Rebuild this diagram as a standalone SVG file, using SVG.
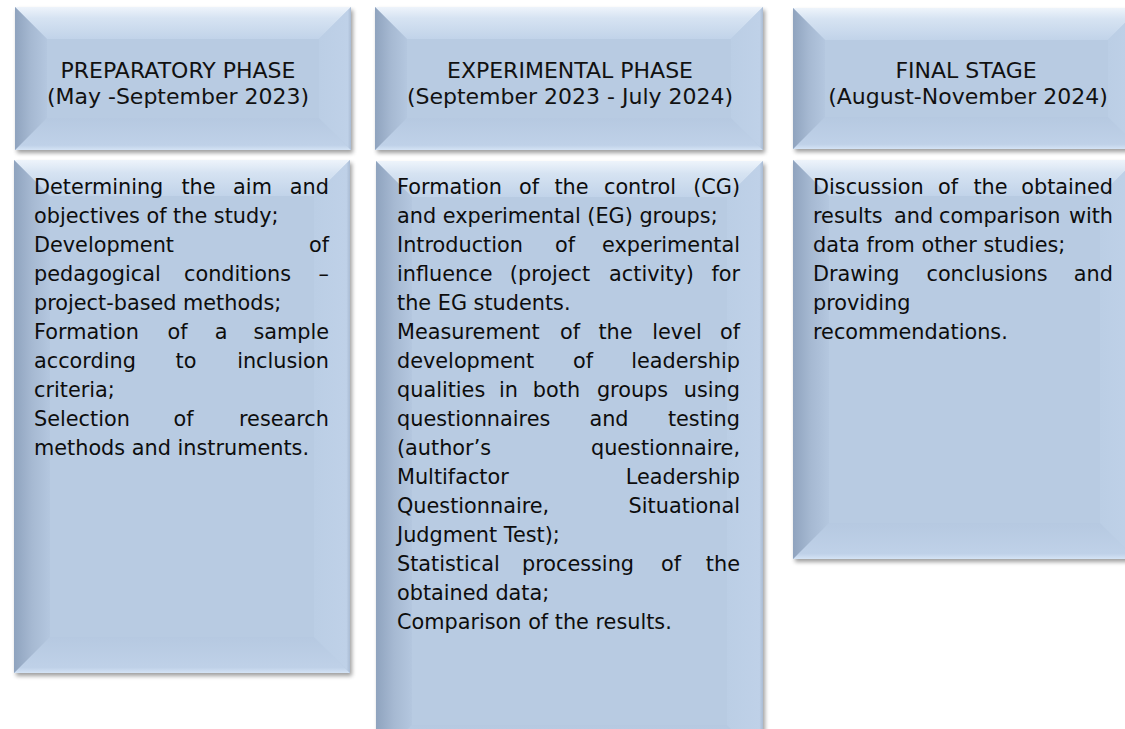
<svg xmlns="http://www.w3.org/2000/svg" width="1125" height="729" viewBox="0 0 1125 729">
  <defs>
    <style>
      .face { fill: #B8CBE2; }
      .top { fill: url(#gTop); }
      .bot { fill: url(#gBot); }
      .lft { fill: url(#gLft); }
      .rgt { fill: url(#gRgt); }
      .shadow { fill: #000; opacity: 0.38; filter: url(#soft); }
      .t { font-family: "DejaVu Sans", Verdana, sans-serif; font-size: 20.8px; fill: #0d0d0d; }
      .h { font-family: "DejaVu Sans", Verdana, sans-serif; font-size: 22px; fill: #111; text-anchor: middle; }
      .m { text-anchor: middle; }
      .e { text-anchor: end; }
    </style>
    <filter id="soft" x="-10%" y="-10%" width="120%" height="120%">
      <feGaussianBlur stdDeviation="2.2"/>
    </filter>
    <linearGradient id="gTop" x1="0" y1="0" x2="0" y2="1">
      <stop offset="0" stop-color="#EEF4FB"/>
      <stop offset="0.35" stop-color="#D6E3F2"/>
      <stop offset="1" stop-color="#C1D3E9"/>
    </linearGradient>
    <linearGradient id="gBot" x1="0" y1="0" x2="0" y2="1">
      <stop offset="0" stop-color="#B6C9E1"/>
      <stop offset="0.85" stop-color="#BFD1E8"/>
      <stop offset="1" stop-color="#D4E3F5"/>
    </linearGradient>
    <linearGradient id="gLft" x1="0" y1="0" x2="1" y2="0">
      <stop offset="0" stop-color="#8FA3BE"/>
      <stop offset="0.5" stop-color="#A6B9D2"/>
      <stop offset="1" stop-color="#B4C7DF"/>
    </linearGradient>
    <linearGradient id="gRgt" x1="0" y1="0" x2="1" y2="0">
      <stop offset="0" stop-color="#BBCEE5"/>
      <stop offset="0.9" stop-color="#BFD1E8"/>
      <stop offset="1" stop-color="#A9BBD3"/>
    </linearGradient>
  </defs>

  <rect width="1125" height="729" fill="#FFFFFF"/>

  <!-- Column 1: preparatory phase -->
  <g id="header-preparatory">
    <rect class="shadow" x="17" y="10" width="336" height="143"/>
    <rect class="face" x="15" y="7" width="336" height="143"/>
    <polygon class="top" points="15,7 351,7 319,39 47,39"/>
    <polygon class="bot" points="15,150 351,150 319,118 47,118"/>
    <polygon class="lft" points="15,7 47,39 47,118 15,150"/>
    <polygon class="rgt" points="351,7 319,39 319,118 351,150"/>
    <text class="h" x="178" y="78">PREPARATORY PHASE</text>
    <text class="h" x="178" y="104">(May -September 2023)</text>
  </g>

  <g id="body-preparatory">
    <rect class="shadow" x="16" y="163" width="336" height="513"/>
    <rect class="face" x="14" y="160" width="336" height="513"/>
    <polygon class="top" points="14,160 350,160 314,196 50,196"/>
    <polygon class="bot" points="14,673 350,673 314,637 50,637"/>
    <polygon class="lft" points="14,160 50,196 50,637 14,673"/>
    <polygon class="rgt" points="350,160 314,196 314,637 350,673"/>
    <text class="t" y="194"><tspan x="34">Determining</tspan><tspan class="m" x="198.5">the</tspan><tspan class="m" x="252.5">aim</tspan><tspan class="e" x="329">and</tspan></text>
    <text class="t" x="34" y="223">objectives of the study;</text>
    <text class="t" y="252"><tspan x="34">Development</tspan><tspan class="e" x="329">of</tspan></text>
    <text class="t" y="281"><tspan x="34">pedagogical</tspan><tspan class="m" x="237.5">conditions</tspan><tspan class="e" x="329">–</tspan></text>
    <text class="t" x="34" y="310">project-based methods;</text>
    <text class="t" y="339"><tspan x="34">Formation</tspan><tspan class="m" x="177.5">of</tspan><tspan class="m" x="221">a</tspan><tspan class="e" x="329">sample</tspan></text>
    <text class="t" y="368"><tspan x="34">according</tspan><tspan class="m" x="186">to</tspan><tspan class="e" x="329">inclusion</tspan></text>
    <text class="t" x="34" y="397">criteria;</text>
    <text class="t" y="426"><tspan x="34">Selection</tspan><tspan class="m" x="183.5">of</tspan><tspan class="e" x="329">research</tspan></text>
    <text class="t" x="34" y="455">methods and instruments.</text>
  </g>

  <!-- Column 2: experimental phase -->
  <g id="header-experimental">
    <rect class="shadow" x="377" y="10" width="388" height="143"/>
    <rect class="face" x="375" y="7" width="388" height="143"/>
    <polygon class="top" points="375,7 763,7 731,39 407,39"/>
    <polygon class="bot" points="375,150 763,150 731,118 407,118"/>
    <polygon class="lft" points="375,7 407,39 407,118 375,150"/>
    <polygon class="rgt" points="763,7 731,39 731,118 763,150"/>
    <text class="h" x="570" y="78">EXPERIMENTAL PHASE</text>
    <text class="h" x="570" y="104">(September 2023 - July 2024)</text>
  </g>

  <g id="body-experimental">
    <rect class="shadow" x="378" y="164" width="387" height="600"/>
    <rect class="face" x="376" y="161" width="387" height="600"/>
    <polygon class="top" points="376,161 763,161 727,197 412,197"/>
    <polygon class="bot" points="376,761 763,761 727,725 412,725"/>
    <polygon class="lft" points="376,161 412,197 412,725 376,761"/>
    <polygon class="rgt" points="763,161 727,197 727,725 763,761"/>
    <text class="t" y="194"><tspan x="397">Formation</tspan><tspan class="m" x="529">of</tspan><tspan class="m" x="571.5">the</tspan><tspan class="m" x="640">control</tspan><tspan class="e" x="740">(CG)</tspan></text>
    <text class="t" x="397" y="223">and experimental (EG) groups;</text>
    <text class="t" y="252"><tspan x="397">Introduction</tspan><tspan class="m" x="565">of</tspan><tspan class="e" x="740">experimental</tspan></text>
    <text class="t" y="281"><tspan x="397">influence</tspan><tspan class="m" x="550">(project</tspan><tspan class="m" x="651.5">activity)</tspan><tspan class="e" x="740">for</tspan></text>
    <text class="t" x="397" y="310">the EG students.</text>
    <text class="t" y="339"><tspan x="397">Measurement</tspan><tspan class="m" x="570">of</tspan><tspan class="m" x="615.5">the</tspan><tspan class="m" x="677">level</tspan><tspan class="e" x="740">of</tspan></text>
    <text class="t" y="368"><tspan x="397">development</tspan><tspan class="m" x="583">of</tspan><tspan class="e" x="740">leadership</tspan></text>
    <text class="t" y="397"><tspan x="397">qualities</tspan><tspan class="m" x="508.5">in</tspan><tspan class="m" x="556.5">both</tspan><tspan class="m" x="632.5">groups</tspan><tspan class="e" x="740">using</tspan></text>
    <text class="t" y="426"><tspan x="397">questionnaires</tspan><tspan class="m" x="609">and</tspan><tspan class="e" x="740">testing</tspan></text>
    <text class="t" y="455"><tspan x="397">(author’s</tspan><tspan class="e" x="740">questionnaire,</tspan></text>
    <text class="t" y="484"><tspan x="397">Multifactor</tspan><tspan class="e" x="740">Leadership</tspan></text>
    <text class="t" y="513"><tspan x="397">Questionnaire,</tspan><tspan class="e" x="740">Situational</tspan></text>
    <text class="t" x="397" y="542">Judgment Test);</text>
    <text class="t" y="571"><tspan x="397">Statistical</tspan><tspan class="m" x="578">processing</tspan><tspan class="m" x="671">of</tspan><tspan class="e" x="740">the</tspan></text>
    <text class="t" x="397" y="600">obtained data;</text>
    <text class="t" x="397" y="629">Comparison of the results.</text>
  </g>

  <!-- Column 3: final stage -->
  <g id="header-final">
    <rect class="shadow" x="795" y="11" width="347" height="141"/>
    <rect class="face" x="793" y="8" width="347" height="141"/>
    <polygon class="top" points="793,8 1140,8 1108,40 825,40"/>
    <polygon class="bot" points="793,149 1140,149 1108,117 825,117"/>
    <polygon class="lft" points="793,8 825,40 825,117 793,149"/>
    <polygon class="rgt" points="1140,8 1108,40 1108,117 1140,149"/>
    <text class="h" x="966" y="78">FINAL STAGE</text>
    <text class="h" x="968" y="104">(August-November 2024)</text>
  </g>

  <g id="body-final">
    <rect class="shadow" x="795" y="163" width="343" height="399"/>
    <rect class="face" x="793" y="160" width="343" height="399"/>
    <polygon class="top" points="793,160 1136,160 1100,196 829,196"/>
    <polygon class="bot" points="793,559 1136,559 1100,523 829,523"/>
    <polygon class="lft" points="793,160 829,196 829,523 793,559"/>
    <polygon class="rgt" points="1136,160 1100,196 1100,523 1136,559"/>
    <text class="t" y="194"><tspan x="813">Discussion</tspan><tspan class="m" x="948">of</tspan><tspan class="m" x="990.5">the</tspan><tspan class="e" x="1113">obtained</tspan></text>
    <text class="t" y="223"><tspan x="813">results</tspan><tspan x="894">and</tspan><tspan x="939">comparison</tspan><tspan class="e" x="1113">with</tspan></text>
    <text class="t" x="813" y="252">data from other studies;</text>
    <text class="t" y="281"><tspan x="813">Drawing</tspan><tspan class="m" x="987">conclusions</tspan><tspan class="e" x="1113">and</tspan></text>
    <text class="t" x="813" y="310">providing</text>
    <text class="t" x="813" y="339">recommendations.</text>
  </g>
</svg>
